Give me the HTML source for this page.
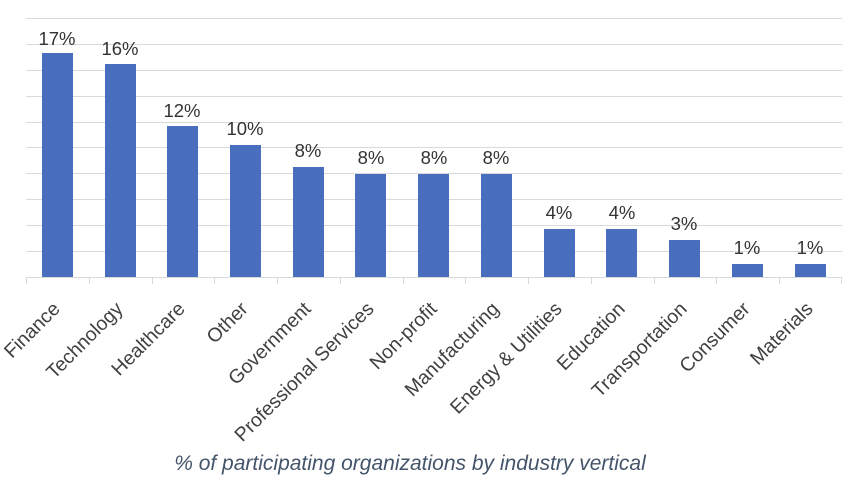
<!DOCTYPE html>
<html><head><meta charset="utf-8"><style>
body{margin:0;background:#fff;}
svg{display:block;font-family:"Liberation Sans",sans-serif;}
</style></head><body>
<svg width="850" height="481" viewBox="0 0 850 481">
<g stroke="#d9d9d9" stroke-width="1">
<line x1="26" x2="842" y1="18.5" y2="18.5"/>
<line x1="26" x2="842" y1="44.5" y2="44.5"/>
<line x1="26" x2="842" y1="70.5" y2="70.5"/>
<line x1="26" x2="842" y1="96.5" y2="96.5"/>
<line x1="26" x2="842" y1="122.5" y2="122.5"/>
<line x1="26" x2="842" y1="147.5" y2="147.5"/>
<line x1="26" x2="842" y1="173.5" y2="173.5"/>
<line x1="26" x2="842" y1="199.5" y2="199.5"/>
<line x1="26" x2="842" y1="225.5" y2="225.5"/>
<line x1="26" x2="842" y1="251.5" y2="251.5"/>
<line x1="26" x2="842" y1="277.5" y2="277.5"/>
</g>
<g stroke="#d9d9d9">
<line x1="26.5" x2="26.5" y1="277" y2="284"/><line x1="89.5" x2="89.5" y1="277" y2="284"/><line x1="152.5" x2="152.5" y1="277" y2="284"/><line x1="214.5" x2="214.5" y1="277" y2="284"/><line x1="277.5" x2="277.5" y1="277" y2="284"/><line x1="340.5" x2="340.5" y1="277" y2="284"/><line x1="403.5" x2="403.5" y1="277" y2="284"/><line x1="465.5" x2="465.5" y1="277" y2="284"/><line x1="528.5" x2="528.5" y1="277" y2="284"/><line x1="591.5" x2="591.5" y1="277" y2="284"/><line x1="654.5" x2="654.5" y1="277" y2="284"/><line x1="716.5" x2="716.5" y1="277" y2="284"/><line x1="779.5" x2="779.5" y1="277" y2="284"/><line x1="841.5" x2="841.5" y1="277" y2="284"/>
</g>
<g fill="#4a6ebe">
<rect x="42" y="53" width="31" height="224"/>
<rect x="105" y="64" width="31" height="213"/>
<rect x="167" y="126" width="31" height="151"/>
<rect x="230" y="145" width="31" height="132"/>
<rect x="293" y="167" width="31" height="110"/>
<rect x="355" y="174" width="31" height="103"/>
<rect x="418" y="174" width="31" height="103"/>
<rect x="481" y="174" width="31" height="103"/>
<rect x="544" y="229" width="31" height="48"/>
<rect x="606" y="229" width="31" height="48"/>
<rect x="669" y="240" width="31" height="37"/>
<rect x="732" y="264" width="31" height="13"/>
<rect x="795" y="264" width="31" height="13"/>
</g>
<g fill="#333" font-size="18.5" text-anchor="middle">
<text x="57" y="45">17%</text>
<text x="120" y="55">16%</text>
<text x="182" y="117">12%</text>
<text x="245" y="135">10%</text>
<text x="308" y="157">8%</text>
<text x="371" y="164">8%</text>
<text x="434" y="164">8%</text>
<text x="496" y="164">8%</text>
<text x="559" y="219">4%</text>
<text x="622" y="219">4%</text>
<text x="684" y="230">3%</text>
<text x="747" y="254">1%</text>
<text x="810" y="254">1%</text>
</g>
<g fill="#404040" font-size="19.5" text-anchor="end">
<text transform="translate(61,310) rotate(-45)">Finance</text>
<text transform="translate(124,310) rotate(-45)">Technology</text>
<text transform="translate(186,310) rotate(-45)">Healthcare</text>
<text transform="translate(249,310) rotate(-45)">Other</text>
<text transform="translate(312,310) rotate(-45)">Government</text>
<text transform="translate(375,310) rotate(-45)">Professional Services</text>
<text transform="translate(438,310) rotate(-45)">Non-profit</text>
<text transform="translate(500,310) rotate(-45)">Manufacturing</text>
<text transform="translate(563,310) rotate(-45)">Energy &amp; Utilities</text>
<text transform="translate(626,310) rotate(-45)">Education</text>
<text transform="translate(688,310) rotate(-45)">Transportation</text>
<text transform="translate(751,310) rotate(-45)">Consumer</text>
<text transform="translate(814,310) rotate(-45)">Materials</text>
</g>
<text x="410" y="470" text-anchor="middle" font-size="21" font-style="italic" fill="#44546a">% of participating organizations by industry vertical</text>
</svg>
</body></html>
